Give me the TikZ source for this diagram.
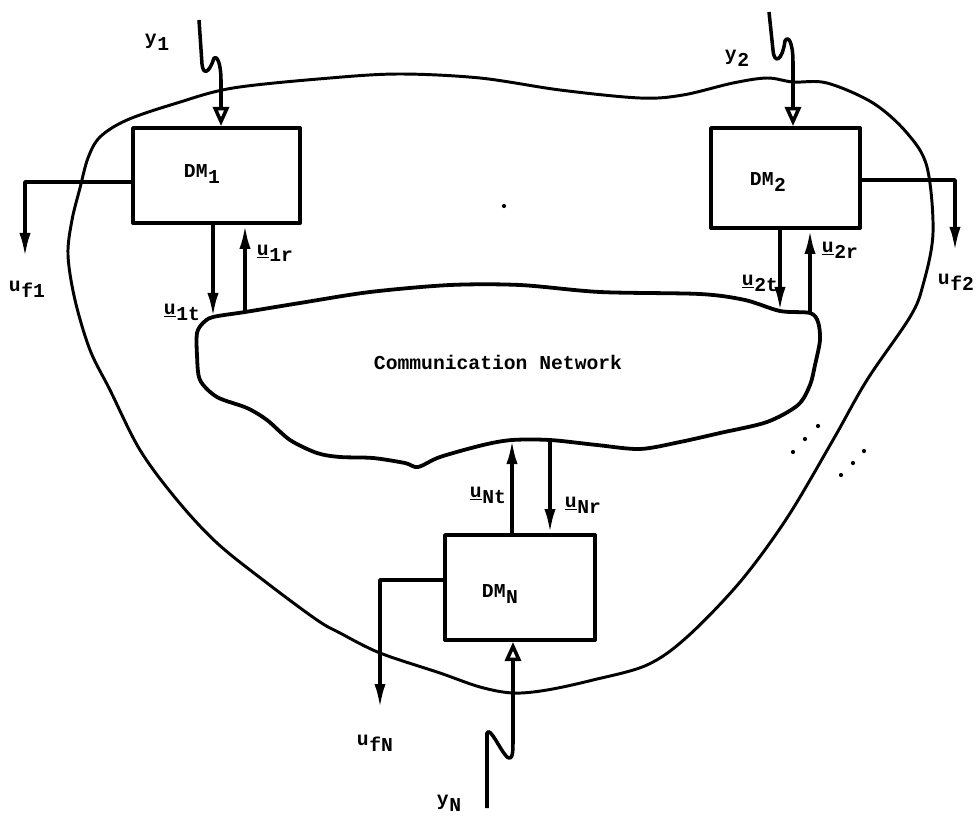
\documentclass[tikz,border=0pt]{standalone}
\usepackage{fontspec}
\setmonofont{Liberation Mono}
\usetikzlibrary{arrows.meta,positioning,calc}
\newcommand{\lbl}[2]{#1\kern0.03em\raisebox{-0.6ex}{#2}}
\newcommand{\vu}{\underline{u}}
\tikzset{
  dmbox/.style={draw, line width=2.7pt, inner sep=0pt},
  blob/.style={line width=2.1pt},
  netblob/.style={line width=2.7pt},
  flow/.style={-{Latex[length=6mm,width=2.8mm]}, line width=2.5pt},
  inflow/.style={-{Triangle[open,length=4.8mm,width=4mm]}, line width=2.5pt},
  lab/.style={font=\ttfamily\bfseries\fontsize{14}{16}\selectfont, inner sep=0pt},
}
\begin{document}
\begin{tikzpicture}[x=0.025cm, y=-0.025cm, line join=round]
  \useasboundingbox (0,0) rectangle (976,817);
  % outer boundary
  \draw[blob] plot[smooth cycle, tension=0.55] coordinates {
    (330,78) (400,74) (480,78) (560,90) (640,98) (683,95) (733,83) (767,78)
    (793,82) (827,83) (873,103) (907,133) (927,167) (933,233) (923,285) (910,317)
    (867,380) (833,440) (787,518) (740,582) (687,637) (647,665) (593,680)
    (547,690) (513,693) (480,687) (440,673) (380,653) (340,633) (317,620)
    (267,583) (217,543) (177,500) (140,450) (110,390) (90,350) (75,300)
    (68,255) (72,220) (80,188) (88,158) (100,137) (127,120) (177,103) (233,88)};
  % communication network
  \coordinate (n1t) at (213,317);
  \coordinate (n1r) at (245,312);
  \coordinate (n2t) at (780,311);
  \coordinate (n2r) at (810,313);
  \coordinate (nNt) at (512,440);
  \coordinate (nNr) at (550,440);
  \draw[netblob] plot[smooth cycle, tension=0.5] coordinates {
    (n1t) (n1r) (300,303) (370,292) (450,285) (520,285) (600,292) (700,294)
    (745,300) (n2t) (n2r) (818,322) (820,340) (815,365) (810,385) (798,405)
    (767,422) (720,433) (680,442) (640,449) (597,445) (nNr) (nNt) (483,445)
    (440,457) (418,467) (405,463) (373,458) (340,457) (317,453) (290,440)
    (267,420) (247,408) (217,397) (200,380) (197,355) (197,333) (203,323)};
  \node[lab] (net) at (498,362) {Communication Network};

  \node[dmbox, minimum width=4.175cm, minimum height=2.375cm] (dm1) at (216.5,175.5) {};
  \node[dmbox, minimum width=3.725cm, minimum height=2.5cm] (dm2) at (785.5,178) {};
  \node[dmbox, minimum width=3.75cm, minimum height=2.625cm] (dmN) at (520,587.5) {};
  \node[lab] (dm1t) at (202,174) {\lbl{DM}{1}};
  \node[lab] (dm2t) at (768,182) {\lbl{DM}{2}};
  \node[lab] (dmNt) at (500,594) {\lbl{DM}{N}};

  \coordinate (y1s) at (199,20);
  \coordinate (y1b) at (221,80);
  \coordinate (y2s) at (769,12);
  \coordinate (y2b) at (793,62);
  \coordinate (yNs) at (487,808);
  \coordinate (yNb) at (513,740);
  \draw[inflow] (y1s) -- (202,64) .. controls (203,75) and (209,74) .. (214,58)
    .. controls (217,55) and (221,64) .. (y1b) -- (dm1.north -| y1b);
  \draw[inflow] (y2s) -- (773,50) .. controls (774,64) and (782,62) .. (785,41)
    .. controls (788,35) and (793,42) .. (y2b) -- (dm2.north -| y2b);
  \draw[inflow] (yNs) -- (487,733) .. controls (490,726) and (500,750) .. (507,757)
    .. controls (513,761) and (513,752) .. (yNb) -- (dmN.south -| yNb);
  \node[lab] (y1) at (157,42) {\lbl{y}{1}};
  \node[lab] (y2) at (737,58) {\lbl{y}{2}};
  \node[lab] (yN) at (449,803) {\lbl{y}{N}};

  \coordinate (uf1e) at (25,257);
  \coordinate (uf2e) at (955,251);
  \coordinate (ufNe) at (380,708);
  \draw[flow] ([yshift=-0.16cm]dm1.west) -| (uf1e);
  \draw[flow] ([yshift=-0.05cm]dm2.east) -| (uf2e);
  \draw[flow] ([yshift=0.19cm]dmN.west) -| (ufNe);
  \node[lab] (uf1) at (27,289) {\lbl{u}{f1}};
  \node[lab] (uf2) at (956,282) {\lbl{u}{f2}};
  \node[lab] (ufN) at (375,743) {\lbl{u}{fN}};

  \draw[flow] (dm1.south -| n1t) -- (n1t);
  \draw[flow] (n1r) -- (dm1.south -| n1r);
  \draw[flow] (dm2.south -| n2t) -- (n2t);
  \draw[flow] (n2r) -- (dm2.south -| n2r);
  \draw[flow] (dmN.north -| nNt) -- (nNt);
  \draw[flow] (nNr) -- (dmN.north -| nNr);
  \node[lab] (u1t) at (182,312) {\lbl{\vu}{1t}};
  \node[lab] (u1r) at (275,253) {\lbl{\vu}{1r}};
  \node[lab] (u2t) at (760,283) {\lbl{\vu}{2t}};
  \node[lab] (u2r) at (840,250) {\lbl{\vu}{2r}};
  \node[lab] (uNt) at (488,495) {\lbl{\vu}{Nt}};
  \node[lab] (uNr) at (583,505) {\lbl{\vu}{Nr}};

  \foreach \p in {(818,426),(805,439),(793,452),(864,451),(853,463),(841,475)}
    \fill \p circle (1.5pt);
  \fill (504,206) circle (1.5pt);
\end{tikzpicture}
\end{document}
